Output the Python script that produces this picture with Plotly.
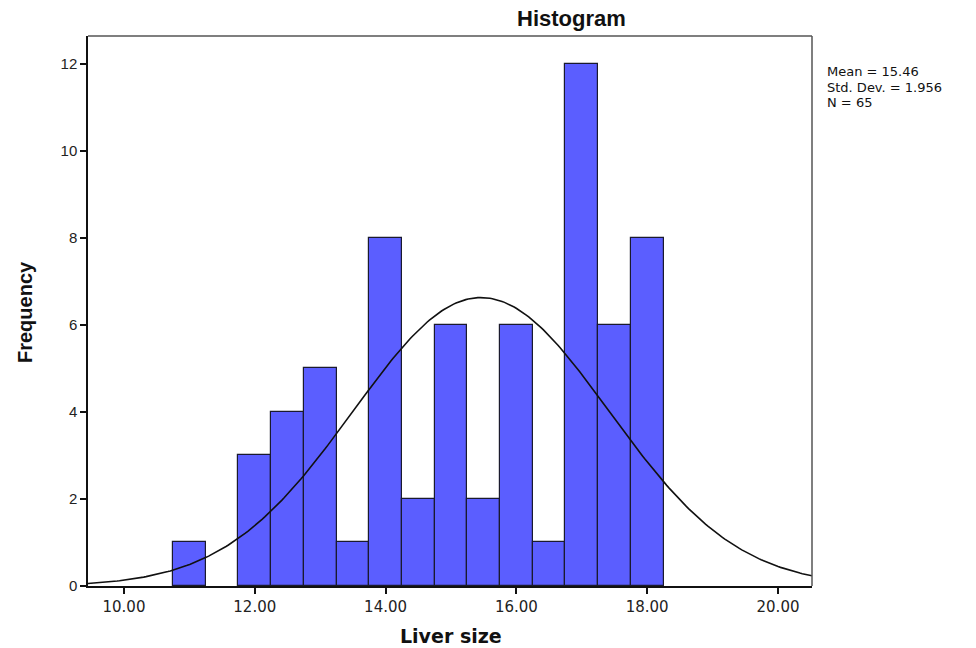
import numpy as np
import plotly.graph_objects as go

bin_centers = [11.0, 11.5, 12.0, 12.5, 13.0, 13.5, 14.0, 14.5, 15.0, 15.5, 16.0, 16.5, 17.0, 17.5, 18.0]
frequencies = [1, 0, 3, 4, 5, 1, 8, 2, 6, 2, 6, 1, 12, 6, 8]
bin_width = 0.5
mean_val = 15.46
std_val = 1.956
n_val = 65
x_ticks = [10, 12, 14, 16, 18, 20]
x_tick_labels = ["10.00", "12.00", "14.00", "16.00", "18.00", "20.00"]
y_ticks = [0, 2, 4, 6, 8, 10, 12]
stats_lines = ["Mean = %.2f" % mean_val, "Std. Dev. = %.3f" % std_val, "N = %d" % n_val]

x_range = [9.45, 20.52]
y_range = [0, 12.64]

# fitted normal curve from the reported statistics
cx = np.linspace(x_range[0], x_range[1], 300)
cy = n_val * bin_width / (std_val * np.sqrt(2 * np.pi)) * np.exp(-0.5 * ((cx - mean_val) / std_val) ** 2)

L, R, T, B = 88, 164, 36, 62
W, H = 976, 648
plot_w = W - L - R
plot_h = H - T - B


def px_x(p):
    return (p - L) / plot_w


def px_y(p):
    return (H - B - p) / plot_h


fig = go.Figure()
fig.add_trace(go.Bar(
    x=bin_centers, y=frequencies, width=bin_width,
    marker=dict(color="#5B5EFF",
                line=dict(color="#1a1a2e", width=[1.2 if f > 0 else 0 for f in frequencies])),
    showlegend=False, hoverinfo="x+y",
))
fig.add_trace(go.Scatter(
    x=cx, y=cy, mode="lines", line=dict(color="#111111", width=1.6),
    showlegend=False, hoverinfo="skip",
))

annotations = [
    dict(text="<b>Histogram</b>", x=px_x(571), y=px_y(18), xref="paper", yref="paper", showarrow=False,
         font=dict(size=22, family="Liberation Sans, Arial", color="#111"), xanchor="center", yanchor="middle"),
    dict(text="<b>Liver size</b>", x=px_x(451), y=px_y(636), xref="paper", yref="paper", showarrow=False,
         font=dict(size=19, family="DejaVu Sans, sans-serif", color="#111"), xanchor="center", yanchor="middle"),
    dict(text="<b>Frequency</b>", x=px_x(25), y=px_y(312), xref="paper", yref="paper", showarrow=False,
         textangle=-90,
         font=dict(size=20, family="Liberation Sans, Arial", color="#111"), xanchor="center", yanchor="middle"),
]
for i, s in enumerate(stats_lines):
    annotations.append(dict(text=s, x=px_x(825), y=px_y(72 + 15 * i), xref="paper", yref="paper",
                            showarrow=False, xanchor="left", yanchor="middle",
                            font=dict(size=13, family="DejaVu Sans, sans-serif", color="#111")))

fig.update_layout(
    width=W, height=H,
    margin=dict(l=L, r=R, t=T, b=B, autoexpand=False),
    paper_bgcolor="white", plot_bgcolor="white",
    font=dict(family="Liberation Sans, Arial, sans-serif", color="#111"),
    bargap=0,
    xaxis=dict(
        range=x_range, tickvals=x_ticks, ticktext=x_tick_labels, automargin=False,
        showgrid=False, zeroline=False, showline=True, linecolor="#111", linewidth=1.5,
        ticks="outside", ticklen=6, tickwidth=1.5, tickcolor="#111",
        tickfont=dict(size=15, family="DejaVu Sans, sans-serif", color="#222"),
    ),
    yaxis=dict(
        range=y_range, tickvals=y_ticks, automargin=False,
        showgrid=False, zeroline=False, showline=True, linecolor="#111", linewidth=1.5,
        ticks="outside", ticklen=6, tickwidth=1.5, tickcolor="#111",
        tickfont=dict(size=15, family="Liberation Sans, Arial", color="#222"),
    ),
    annotations=annotations,
    shapes=[
        dict(type="line", xref="paper", yref="paper", x0=0, x1=1, y0=1, y1=1, line=dict(color="#555", width=1.5)),
        dict(type="line", xref="paper", yref="paper", x0=1, x1=1, y0=0, y1=1, line=dict(color="#555", width=1.5)),
    ],
)

fig.write_html("out.html")
